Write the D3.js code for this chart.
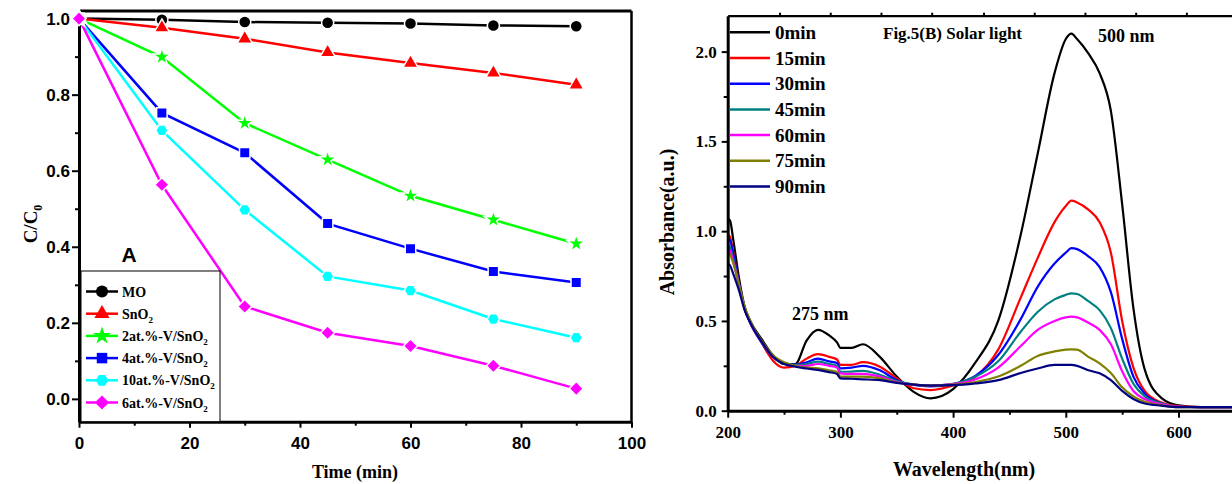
<!doctype html>
<html>
<head>
<meta charset="utf-8">
<title>Photocatalytic degradation of MO</title>
<script src="https://d3js.org/d3.v7.min.js"></script>
<style type="text/css">
	body { margin: 0; background: #fff; }
	.serif { font-family: "Liberation Serif", "Times New Roman", serif; font-weight: bold; }
	.sans { font-family: "Liberation Sans", Arial, sans-serif; font-weight: bold; }
	.tick line { stroke: #000; stroke-width: 2; }
</style>
</head>
<body>
<script>
	// Fig A: C/C0 vs time
	var times = [0, 15, 30, 45, 60, 75, 90];
	var moVals   = [1.0, 0.997, 0.991, 0.989, 0.987, 0.982, 0.980];
	var sno2Vals = [1.0, 0.976, 0.947, 0.911, 0.883, 0.857, 0.826];
	var v2Vals   = [1.0, 0.899, 0.725, 0.629, 0.534, 0.471, 0.408];
	var v4Vals   = [1.0, 0.752, 0.647, 0.461, 0.395, 0.335, 0.306];
	var v10Vals  = [1.0, 0.706, 0.497, 0.322, 0.285, 0.210, 0.161];
	var v6Vals   = [1.0, 0.563, 0.243, 0.174, 0.139, 0.087, 0.027];
	var legendA = [["MO", ""], ["SnO", "2"], ["2at.%-V/SnO", "2"], ["4at.%-V/SnO", "2"], ["10at.%-V/SnO", "2"], ["6at.%-V/SnO", "2"]];
	var xTicksA = [0, 20, 40, 60, 80, 100];
	var yTicksA = [0, 0.2, 0.4, 0.6, 0.8, 1.0];

	// Fig B: absorbance spectra
	var wl = [200,202,205,210,215,220,230,240,250,260,270,280,290,297,300,310,320,335,350,365,380,400,420,440,460,475,490,500,505,510,520,530,540,550,560,570,585,600,620,650];
	var abs0  = [1.07,1.06,0.95,0.74,0.58,0.50,0.40,0.31,0.26,0.26,0.39,0.45,0.42,0.38,0.35,0.35,0.37,0.30,0.19,0.105,0.069,0.12,0.27,0.50,0.98,1.43,1.88,2.07,2.10,2.07,1.99,1.88,1.67,1.15,0.57,0.23,0.07,0.03,0.02,0.02];
	var abs15 = [0.98,0.97,0.88,0.71,0.57,0.49,0.38,0.28,0.24,0.25,0.29,0.315,0.30,0.285,0.255,0.255,0.27,0.245,0.18,0.125,0.115,0.14,0.19,0.34,0.63,0.85,1.05,1.14,1.17,1.16,1.12,1.05,0.88,0.50,0.24,0.11,0.045,0.025,0.02,0.02];
	var abs30 = [0.96,0.95,0.87,0.71,0.57,0.49,0.38,0.30,0.265,0.255,0.27,0.29,0.275,0.265,0.236,0.24,0.25,0.225,0.17,0.143,0.135,0.148,0.195,0.31,0.51,0.69,0.82,0.88,0.905,0.90,0.86,0.80,0.66,0.40,0.19,0.095,0.04,0.022,0.02,0.02];
	var abs45 = [0.92,0.91,0.84,0.70,0.57,0.49,0.385,0.30,0.265,0.255,0.26,0.273,0.26,0.25,0.217,0.218,0.222,0.20,0.165,0.147,0.14,0.15,0.19,0.275,0.44,0.55,0.62,0.645,0.654,0.65,0.61,0.56,0.46,0.29,0.15,0.08,0.04,0.022,0.02,0.02];
	var abs60 = [0.90,0.89,0.83,0.70,0.57,0.49,0.385,0.30,0.265,0.25,0.25,0.26,0.25,0.24,0.208,0.205,0.205,0.19,0.16,0.145,0.14,0.148,0.175,0.24,0.36,0.45,0.50,0.52,0.524,0.52,0.49,0.45,0.37,0.22,0.11,0.065,0.035,0.022,0.02,0.02];
	var abs75 = [0.88,0.87,0.82,0.70,0.58,0.50,0.39,0.31,0.27,0.25,0.24,0.236,0.225,0.215,0.19,0.19,0.19,0.18,0.157,0.145,0.14,0.145,0.16,0.19,0.25,0.305,0.33,0.34,0.342,0.34,0.30,0.264,0.21,0.13,0.08,0.05,0.03,0.02,0.02,0.02];
	var abs90 = [0.82,0.81,0.76,0.67,0.56,0.49,0.385,0.30,0.26,0.245,0.235,0.227,0.215,0.205,0.18,0.178,0.175,0.17,0.155,0.145,0.14,0.142,0.152,0.17,0.21,0.235,0.255,0.255,0.255,0.25,0.225,0.208,0.17,0.11,0.065,0.04,0.028,0.02,0.02,0.02];
	var legendB = ["0min", "15min", "30min", "45min", "60min", "75min", "90min"];
	var xTicksB = [200, 300, 400, 500, 600];
	var yTicksB = [0, 0.5, 1.0, 1.5, 2.0];
	var topTicksB = [246, 291, 336, 381, 427, 472, 517, 562, 607];

	var w = 1232, h = 484;
	var svg = d3.select("body").append("svg")
				.attr("width", w)
				.attr("height", h);

	// ---------- panel A ----------
	var xA = d3.scaleLinear().domain([0, 100]).range([79, 631.5]);
	var yA = d3.scaleLinear().domain([-0.06, 1.02]).range([421.7, 11]);

	var hexagon = {
		draw: function(ctx, size) {
			var r = Math.sqrt(size / (1.5 * Math.sqrt(3)));
			for (var i = 0; i < 6; i++) {
				var a = Math.PI / 3 * i;
				if (i == 0) ctx.moveTo(r * Math.cos(a), r * Math.sin(a));
				else ctx.lineTo(r * Math.cos(a), r * Math.sin(a));
			}
			ctx.closePath();
		}
	};
	var diamond = {
		draw: function(ctx, size) {
			var r = Math.sqrt(size / 2);
			ctx.moveTo(0, -r); ctx.lineTo(r, 0); ctx.lineTo(0, r); ctx.lineTo(-r, 0);
			ctx.closePath();
		}
	};

	var seriesA = [
		{vals: moVals,   color: "#000000", sym: d3.symbolCircle,   size: 115},
		{vals: sno2Vals, color: "#ff0000", sym: d3.symbolTriangle, size: 100},
		{vals: v2Vals,   color: "#00ff00", sym: d3.symbolStar,     size: 100},
		{vals: v4Vals,   color: "#0000ff", sym: d3.symbolSquare,   size: 110},
		{vals: v10Vals,  color: "#00ffff", sym: hexagon,           size: 100},
		{vals: v6Vals,   color: "#ff00ff", sym: diamond,           size: 100}
	];

	var lineA = d3.line()
				.x(function(d, i) { return xA(times[i]); })
				.y(function(d) { return yA(d); });

	// axes A
	var gxA = svg.append("g")
				.attr("transform", "translate(0," + yA(-0.06) + ")")
				.call(d3.axisBottom(xA).tickValues(xTicksA).tickSize(6).tickSizeOuter(0).tickPadding(9));
	svg.append("g")
		.attr("transform", "translate(0," + yA(-0.06) + ")")
		.call(d3.axisBottom(xA).tickValues([10, 30, 50, 70, 90]).tickSize(4).tickFormat("").tickSizeOuter(0))
		.select(".domain").remove();
	var gyA = svg.append("g")
				.attr("transform", "translate(" + xA(0) + ",0)")
				.call(d3.axisLeft(yA).tickValues(yTicksA).tickSize(7).tickSizeOuter(0).tickPadding(2).tickFormat(d3.format(".1f")));
	svg.append("g")
		.attr("transform", "translate(" + xA(0) + ",0)")
		.call(d3.axisLeft(yA).tickValues([0.1, 0.3, 0.5, 0.7, 0.9]).tickSize(4).tickFormat("").tickSizeOuter(0))
		.select(".domain").remove();
	[gxA, gyA].forEach(function(g) {
		g.select(".domain").attr("stroke-width", 3);
		g.selectAll("text").attr("class", "sans").style("font-size", "17px").attr("fill", "#000");
	});

	// frame top / right
	svg.append("line").attr("x1", xA(0)).attr("x2", xA(100)).attr("y1", yA(1.02)).attr("y2", yA(1.02))
		.attr("stroke", "#000").attr("stroke-width", 3);
	svg.append("line").attr("x1", xA(100)).attr("x2", xA(100)).attr("y1", yA(1.02)).attr("y2", yA(-0.06))
		.attr("stroke", "#000").attr("stroke-width", 2.5);

	seriesA.forEach(function(s) {
		svg.append("path")
			.attr("d", lineA(s.vals))
			.attr("fill", "none")
			.attr("stroke", s.color)
			.attr("stroke-width", 2.5);
	});
	seriesA.forEach(function(s) {
		svg.append("g").selectAll("path")
			.data(s.vals)
			.enter()
			.append("path")
			.attr("transform", function(d, i) { return "translate(" + xA(times[i]) + "," + yA(d) + ")"; })
			.attr("d", d3.symbol().type(s.sym).size(s.size))
			.attr("fill", s.color)
			.attr("stroke", "#fff")
			.attr("stroke-width", 1.5);
	});

	svg.append("text").attr("class", "sans")
		.attr("x", 129).attr("y", 261.5)
		.attr("text-anchor", "middle")
		.style("font-size", "21px")
		.text("A");

	// legend A
	var legA = svg.append("g");
	legA.append("rect")
		.attr("x", 81).attr("y", 271).attr("width", 139).attr("height", 150.7)
		.attr("fill", "#fff").attr("stroke", "#000").attr("stroke-width", 1);
	seriesA.forEach(function(s, i) {
		var ly = 291.5 + i * 22.2;
		legA.append("line").attr("x1", 86).attr("x2", 118).attr("y1", ly).attr("y2", ly)
			.attr("stroke", s.color).attr("stroke-width", 2.5);
		legA.append("path")
			.attr("transform", "translate(102," + ly + ")")
			.attr("d", d3.symbol().type(s.sym).size(s.size))
			.attr("fill", s.color);
		var t = legA.append("text").attr("class", "serif")
			.attr("x", 122).attr("y", ly + 5)
			.style("font-size", "14px");
		t.append("tspan").text(legendA[i][0]);
		if (legendA[i][1]) t.append("tspan").attr("dy", 4).style("font-size", "9px").text(legendA[i][1]);
	});

	svg.append("text").attr("class", "serif")
		.attr("x", 355).attr("y", 478)
		.attr("text-anchor", "middle")
		.style("font-size", "18px")
		.text("Time (min)");

	var cLabel = svg.append("text").attr("class", "serif")
		.attr("transform", "translate(37,224) rotate(-90)")
		.attr("text-anchor", "middle")
		.style("font-size", "19px");
	cLabel.append("tspan").text("C/C");
	cLabel.append("tspan").attr("dy", 5).style("font-size", "12px").text("0");

	// ---------- panel B ----------
	var xB = d3.scaleLinear().domain([200, 650]).range([727.7, 727.7 + 450 * 1.127]);
	var yB = d3.scaleLinear().domain([0, 2.2]).range([410.7, 15.7]);

	var seriesB = [
		{vals: abs0,  color: "#000000"},
		{vals: abs15, color: "#ff0000"},
		{vals: abs30, color: "#0000ff"},
		{vals: abs45, color: "#008080"},
		{vals: abs60, color: "#ff00ff"},
		{vals: abs75, color: "#808000"},
		{vals: abs90, color: "#000080"}
	];

	var lineB = d3.line()
				.x(function(d, i) { return xB(wl[i]); })
				.y(function(d) { return yB(d); })
				.curve(d3.curveMonotoneX);

	seriesB.forEach(function(s) {
		svg.append("path")
			.attr("d", lineB(s.vals))
			.attr("fill", "none")
			.attr("stroke", s.color)
			.attr("stroke-width", 2.2);
	});

	var gxB = svg.append("g")
				.attr("transform", "translate(0," + yB(0) + ")")
				.call(d3.axisBottom(xB).tickValues(xTicksB).tickSize(7).tickSizeOuter(0).tickPadding(8));
	svg.append("g")
		.attr("transform", "translate(0," + yB(0) + ")")
		.call(d3.axisBottom(xB).tickValues([250, 350, 450, 550]).tickSize(4).tickFormat("").tickSizeOuter(0))
		.select(".domain").remove();
	var gyB = svg.append("g")
				.attr("transform", "translate(" + xB(200) + ",0)")
				.call(d3.axisLeft(yB).tickValues(yTicksB).tickSize(6).tickSizeOuter(0).tickPadding(5).tickFormat(d3.format(".1f")));
	svg.append("g")
		.attr("transform", "translate(" + xB(200) + ",0)")
		.call(d3.axisLeft(yB).tickValues([0.25, 0.75, 1.25, 1.75]).tickSize(4).tickFormat("").tickSizeOuter(0))
		.select(".domain").remove();
	var gtB = svg.append("g")
				.attr("transform", "translate(0," + yB(2.2) + ")")
				.call(d3.axisTop(xB).tickValues(topTicksB).tickSize(3).tickFormat("").tickSizeOuter(0));
	gtB.select(".domain").attr("stroke-width", 2.2);
	[gxB, gyB].forEach(function(g) {
		g.select(".domain").attr("stroke-width", 3);
		g.selectAll("text").attr("class", "serif").style("font-size", "17px").attr("fill", "#000");
	});

	// legend B
	seriesB.forEach(function(s, i) {
		var ly = 32.3 + i * 25.7;
		svg.append("line").attr("x1", 730).attr("x2", 770).attr("y1", ly).attr("y2", ly)
			.attr("stroke", s.color).attr("stroke-width", 2.5);
		svg.append("text").attr("class", "serif")
			.attr("x", 775).attr("y", ly + 6.5)
			.style("font-size", "19px")
			.text(legendB[i]);
	});

	svg.append("text").attr("class", "serif")
		.attr("x", 883).attr("y", 38.5)
		.style("font-size", "17px")
		.text("Fig.5(B) Solar light");
	svg.append("text").attr("class", "serif")
		.attr("x", 1098).attr("y", 41.5)
		.style("font-size", "18px")
		.text("500 nm");
	svg.append("text").attr("class", "serif")
		.attr("x", 792).attr("y", 319.5)
		.style("font-size", "18px")
		.text("275 nm");

	svg.append("text").attr("class", "serif")
		.attr("x", 964).attr("y", 476)
		.attr("text-anchor", "middle")
		.style("font-size", "20px")
		.text("Wavelength(nm)");
	svg.append("text").attr("class", "serif")
		.attr("transform", "translate(674,222) rotate(-90)")
		.attr("text-anchor", "middle")
		.style("font-size", "20px")
		.text("Absorbance(a.u.)");
</script>
</body>
</html>
